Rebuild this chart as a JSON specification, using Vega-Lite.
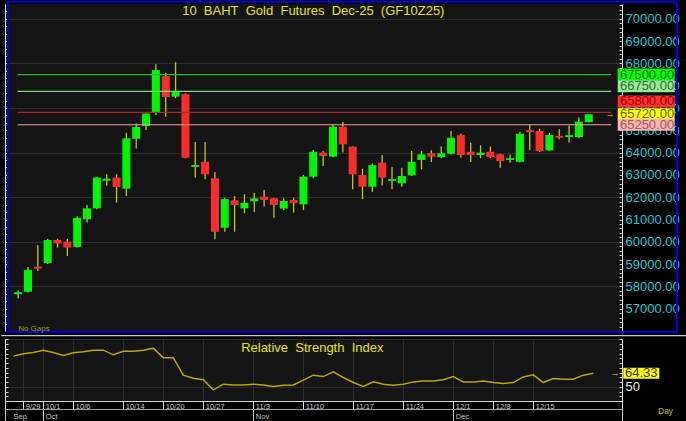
{
  "$schema": "https://vega.github.io/schema/vega-lite/v6.json",
  "background": "#000000",
  "padding": 0,
  "autosize": {"type": "pad"},
  "bounds": "flush",
  "spacing": 8,
  "config": {
    "view": {"fill": "#141414", "stroke": null},
    "font": "Liberation Sans"
  },
  "datasets": {
    "candles": [
      {"i":0,"date":"9/26","open":57650,"high":57825,"low":57470,"close":57740,"rsi":82.4},
      {"i":1,"date":"9/29","open":57760,"high":58870,"low":57730,"close":58740,"rsi":84.9},
      {"i":2,"date":"9/30","open":58880,"high":59840,"low":58690,"close":58800,"rsi":86.3},
      {"i":3,"date":"10/1","open":59050,"high":60130,"low":59000,"close":60080,"rsi":88.7},
      {"i":4,"date":"10/2","open":60080,"high":60130,"low":59740,"close":59930,"rsi":86.3},
      {"i":5,"date":"10/3","open":60000,"high":60130,"low":59360,"close":59740,"rsi":83.1},
      {"i":6,"date":"10/6","open":59770,"high":61130,"low":59740,"close":61080,"rsi":85.9},
      {"i":7,"date":"10/7","open":61010,"high":61650,"low":60860,"close":61500,"rsi":87.0},
      {"i":8,"date":"10/8","open":61500,"high":62910,"low":61460,"close":62880,"rsi":88.7},
      {"i":9,"date":"10/9","open":62740,"high":63030,"low":62530,"close":62830,"rsi":88.7},
      {"i":10,"date":"10/10","open":62880,"high":63030,"low":61750,"close":62460,"rsi":83.8},
      {"i":11,"date":"10/14","open":62380,"high":64890,"low":62050,"close":64640,"rsi":87.6},
      {"i":12,"date":"10/15","open":64620,"high":65310,"low":64180,"close":65150,"rsi":87.6},
      {"i":13,"date":"10/16","open":65190,"high":65760,"low":65010,"close":65750,"rsi":88.7},
      {"i":14,"date":"10/17","open":65820,"high":67960,"low":65690,"close":67700,"rsi":90.8},
      {"i":15,"date":"10/20","open":67430,"high":67580,"low":65610,"close":66490,"rsi":80.7},
      {"i":16,"date":"10/21","open":66510,"high":68050,"low":66440,"close":66730,"rsi":80.7},
      {"i":17,"date":"10/22","open":66620,"high":66650,"low":63740,"close":63770,"rsi":62.3},
      {"i":18,"date":"10/24","open":63360,"high":64480,"low":62880,"close":63440,"rsi":59.1},
      {"i":19,"date":"10/27","open":63590,"high":64480,"low":62800,"close":63030,"rsi":57.4},
      {"i":20,"date":"10/28","open":62850,"high":63130,"low":60110,"close":60450,"rsi":46.8},
      {"i":21,"date":"10/29","open":60630,"high":61980,"low":60450,"close":61910,"rsi":52.8},
      {"i":22,"date":"10/30","open":61860,"high":62050,"low":60450,"close":61650,"rsi":52.0},
      {"i":23,"date":"10/31","open":61500,"high":62130,"low":61280,"close":61750,"rsi":52.0},
      {"i":24,"date":"11/3","open":61820,"high":62200,"low":61340,"close":61950,"rsi":52.8},
      {"i":25,"date":"11/4","open":62020,"high":62320,"low":61580,"close":61880,"rsi":52.0},
      {"i":26,"date":"11/5","open":61950,"high":61960,"low":61080,"close":61650,"rsi":50.3},
      {"i":27,"date":"11/6","open":61490,"high":61950,"low":61430,"close":61830,"rsi":51.7},
      {"i":28,"date":"11/7","open":61880,"high":61980,"low":61310,"close":61730,"rsi":52.0},
      {"i":29,"date":"11/10","open":61680,"high":63000,"low":61430,"close":62920,"rsi":57.1},
      {"i":30,"date":"11/11","open":62920,"high":64120,"low":62850,"close":64040,"rsi":62.3},
      {"i":31,"date":"11/12","open":64000,"high":64070,"low":63400,"close":63850,"rsi":60.8},
      {"i":32,"date":"11/13","open":63820,"high":65270,"low":63780,"close":65160,"rsi":65.7},
      {"i":33,"date":"11/14","open":65160,"high":65370,"low":64000,"close":64370,"rsi":59.8},
      {"i":34,"date":"11/17","open":64270,"high":64290,"low":62360,"close":63030,"rsi":54.5},
      {"i":35,"date":"11/18","open":63000,"high":63280,"low":61910,"close":62470,"rsi":50.3},
      {"i":36,"date":"11/19","open":62470,"high":63500,"low":62250,"close":63440,"rsi":55.2},
      {"i":37,"date":"11/20","open":63550,"high":63890,"low":62530,"close":62880,"rsi":52.8},
      {"i":38,"date":"11/21","open":62730,"high":63360,"low":62360,"close":62810,"rsi":51.7},
      {"i":39,"date":"11/24","open":62620,"high":63320,"low":62470,"close":62950,"rsi":52.8},
      {"i":40,"date":"11/25","open":62980,"high":64070,"low":62960,"close":63590,"rsi":55.2},
      {"i":41,"date":"11/26","open":63670,"high":64070,"low":63250,"close":63920,"rsi":56.2},
      {"i":42,"date":"11/27","open":63970,"high":64100,"low":63580,"close":63820,"rsi":56.2},
      {"i":43,"date":"11/28","open":63800,"high":64270,"low":63750,"close":63970,"rsi":57.4},
      {"i":44,"date":"12/1","open":63950,"high":64970,"low":63920,"close":64670,"rsi":60.8},
      {"i":45,"date":"12/2","open":64780,"high":64850,"low":63770,"close":63890,"rsi":55.2},
      {"i":46,"date":"12/3","open":64040,"high":64440,"low":63580,"close":63890,"rsi":55.2},
      {"i":47,"date":"12/4","open":63890,"high":64330,"low":63750,"close":64000,"rsi":56.2},
      {"i":48,"date":"12/8","open":64040,"high":64270,"low":63750,"close":63800,"rsi":54.5},
      {"i":49,"date":"12/9","open":63920,"high":63950,"low":63320,"close":63620,"rsi":53.5},
      {"i":50,"date":"12/11","open":63670,"high":63920,"low":63550,"close":63750,"rsi":54.5},
      {"i":51,"date":"12/12","open":63590,"high":64940,"low":63560,"close":64850,"rsi":60.4},
      {"i":52,"date":"12/15","open":65000,"high":65270,"low":64100,"close":64920,"rsi":62.6},
      {"i":53,"date":"12/16","open":64970,"high":65070,"low":64030,"close":64070,"rsi":54.5},
      {"i":54,"date":"12/17","open":64100,"high":64890,"low":64080,"close":64790,"rsi":58.7},
      {"i":55,"date":"12/18","open":64750,"high":65050,"low":64600,"close":64670,"rsi":58.0},
      {"i":56,"date":"12/19","open":64700,"high":65220,"low":64440,"close":64780,"rsi":58.0},
      {"i":57,"date":"12/22","open":64700,"high":65570,"low":64640,"close":65390,"rsi":62.3},
      {"i":58,"date":"12/23","open":65360,"high":65720,"low":65360,"close":65720,"rsi":64.33}
    ],
    "levels": [
      {"name":"R2","price":67500},
      {"name":"R1","price":66750},
      {"name":"S1","price":65800},
      {"name":"Last","price":65720},
      {"name":"S2","price":65250}
    ]
  },
  "vconcat": [
    {
      "width": 617,
      "height": 327,
      "data": {"name": "candles"},
      "resolve": {"axis": {"y": "independent"}, "scale": {"color": "independent"}},
      "layer": [
        {
          "mark": {"type": "rule", "color": "#C8C800", "strokeWidth": 1.3},
          "encoding": {
            "x": {"field": "i", "type": "quantitative",
              "scale": {"domain": [-0.83, 60.87], "nice": false, "zero": false},
              "axis": {"title": null, "values": [1,3,6,11,15,19,24,29,34,39,44,48,52], "grid": true, "gridColor": "#2C2C2C", "ticks": false, "labels": false, "domain": false}},
            "y": {"field": "low", "type": "quantitative",
              "scale": {"domain": [56000, 70664], "nice": false, "zero": false},
              "axis": {"title": null, "orient": "right", "values": [57000,58000,59000,60000,61000,62000,63000,64000,65000,66000,67000,68000,69000,70000], "format": ".2f", "ticks": false, "labelPadding": 3, "labelColor": "#1EC8D4", "labelFontSize": 13, "labelFlush": false, "labelOverlap": false, "labelBound": false, "domain": true, "domainColor": "#E0E0E0", "grid": false}},
            "y2": {"field": "high"}
          }
        },
        {
          "mark": {"type": "bar", "width": 8, "opacity": 1},
          "encoding": {
            "x": {"field": "i", "type": "quantitative", "axis": null},
            "y": {"field": "open", "type": "quantitative",
              "axis": {"title": null, "orient": "right", "labels": false, "domain": false, "grid": false, "tickCount": 60, "tickSize": -3, "tickColor": "#D0D0D0"}},
            "y2": {"field": "close"},
            "color": {"condition": {"test": "datum.close >= datum.open", "value": "#00F500"}, "value": "#FF2B2B"}
          }
        },
        {
          "data": {"name": "levels"},
          "transform": [{"filter": "datum.name != 'Last'"}],
          "mark": {"type": "rule", "strokeWidth": 1.2},
          "encoding": {
            "x": {"datum": -0.06, "type": "quantitative", "axis": null},
            "x2": {"datum": 60.27},
            "y": {"field": "price", "type": "quantitative",
              "axis": {"title": null, "orient": "left", "labels": false, "domain": true, "domainColor": "#E0E0E0", "grid": false, "tickSize": -3, "tickColor": "#D0D0D0",
                "values": [56333,56667,57000,57333,57667,58000,58333,58667,59000,59333,59667,60000,60333,60667,61000,61333,61667,62000,62333,62667,63000,63333,63667,64000,64333,64667,65000,65333,65667,66000,66333,66667,67000,67333,67667,68000,68333,68667,69000,69333,69667,70000,70333]}},
            "color": {"field": "name", "type": "nominal", "legend": null,
              "scale": {"domain": ["R2","R1","S1","S2"], "range": ["#22C022","#70E070","#A82828","#F0A0A0"]}}
          }
        },
        {
          "data": {"values": [{}]},
          "mark": {"type": "rect", "filled": false, "color": "#0000D8", "strokeWidth": 2},
          "encoding": {
            "x": {"datum": -1.03, "type": "quantitative", "axis": null},
            "x2": {"datum": 66.97},
            "y": {"datum": 70763, "type": "quantitative",
              "axis": {"title": null, "orient": "left", "values": [58000,60000,62000,64000,66000,68000,70000], "grid": true, "gridColor": "#2C2C2C", "ticks": false, "labels": false, "domain": false}},
            "y2": {"datum": 55955}
          }
        },
        {
          "data": {"name": "levels"},
          "transform": [{"filter": "datum.name == 'R2' || datum.name == 'Last' || datum.name == 'S2'"}],
          "mark": {"type": "tick", "orient": "horizontal", "thickness": 12, "size": 57, "opacity": 1},
          "encoding": {
            "x": {"datum": 63.84, "type": "quantitative", "axis": null},
            "y": {"field": "price", "type": "quantitative", "axis": null},
            "color": {"field": "name", "type": "nominal", "legend": null,
              "scale": {"domain": ["R2","R1","S1","Last","S2"], "range": ["#00FF00","#90EE90","#FF3030","#FFFF00","#F4B4B4"]}}
          }
        },
        {
          "data": {"name": "levels"},
          "transform": [{"filter": "datum.name == 'R1'"}],
          "mark": {"type": "tick", "orient": "horizontal", "thickness": 12, "size": 57, "opacity": 1, "yOffset": -5},
          "encoding": {
            "x": {"datum": 63.84, "type": "quantitative", "axis": null},
            "y": {"field": "price", "type": "quantitative", "axis": null},
            "color": {"field": "name", "type": "nominal", "legend": null,
              "scale": {"domain": ["R2","R1","S1","Last","S2"], "range": ["#00FF00","#90EE90","#FF3030","#FFFF00","#F4B4B4"]}}
          }
        },
        {
          "data": {"name": "levels"},
          "transform": [{"filter": "datum.name == 'S1'"}],
          "mark": {"type": "tick", "orient": "horizontal", "thickness": 12, "size": 57, "opacity": 1, "yOffset": -11},
          "encoding": {
            "x": {"datum": 63.84, "type": "quantitative", "axis": null},
            "y": {"field": "price", "type": "quantitative", "axis": null},
            "color": {"field": "name", "type": "nominal", "legend": null,
              "scale": {"domain": ["R2","R1","S1","Last","S2"], "range": ["#00FF00","#90EE90","#FF3030","#FFFF00","#F4B4B4"]}}
          }
        },
        {
          "data": {"name": "levels"},
          "transform": [{"filter": "datum.name == 'R2' || datum.name == 'Last' || datum.name == 'S2'"}],
          "mark": {"type": "text", "align": "left", "baseline": "middle", "fontSize": 13},
          "encoding": {
            "x": {"datum": 61.17, "type": "quantitative", "axis": null},
            "y": {"field": "price", "type": "quantitative", "axis": null},
            "text": {"field": "price", "type": "quantitative", "format": ".2f"},
            "color": {"field": "name", "type": "nominal", "legend": null,
              "scale": {"domain": ["R2","R1","S1","Last","S2"], "range": ["#006A00","#3E6A3E","#A00000","#6A6000","#A85858"]}}
          }
        },
        {
          "data": {"name": "levels"},
          "transform": [{"filter": "datum.name == 'R1'"}],
          "mark": {"type": "text", "align": "left", "baseline": "middle", "fontSize": 13, "yOffset": -5},
          "encoding": {
            "x": {"datum": 61.17, "type": "quantitative", "axis": null},
            "y": {"field": "price", "type": "quantitative", "axis": null},
            "text": {"field": "price", "type": "quantitative", "format": ".2f"},
            "color": {"field": "name", "type": "nominal", "legend": null,
              "scale": {"domain": ["R2","R1","S1","Last","S2"], "range": ["#006A00","#3E6A3E","#A00000","#6A6000","#A85858"]}}
          }
        },
        {
          "data": {"name": "levels"},
          "transform": [{"filter": "datum.name == 'S1'"}],
          "mark": {"type": "text", "align": "left", "baseline": "middle", "fontSize": 13, "yOffset": -11},
          "encoding": {
            "x": {"datum": 61.17, "type": "quantitative", "axis": null},
            "y": {"field": "price", "type": "quantitative", "axis": null},
            "text": {"field": "price", "type": "quantitative", "format": ".2f"},
            "color": {"field": "name", "type": "nominal", "legend": null,
              "scale": {"domain": ["R2","R1","S1","Last","S2"], "range": ["#006A00","#3E6A3E","#A00000","#6A6000","#A85858"]}}
          }
        },
        {
          "data": {"name": "levels"},
          "transform": [{"filter": "datum.name == 'Last'"}],
          "mark": {"type": "text", "text": "→", "align": "center", "baseline": "middle", "fontSize": 9, "color": "#E8C800"},
          "encoding": {
            "x": {"datum": 60.17, "type": "quantitative", "axis": null},
            "y": {"field": "price", "type": "quantitative", "axis": null}
          }
        },
        {
          "data": {"values": [{}]},
          "mark": {"type": "text", "text": "10\u00a0 BAHT\u00a0 Gold\u00a0 Futures\u00a0 Dec-25\u00a0 (GF10Z25)", "align": "center", "baseline": "middle", "fontSize": 13, "color": "#E6E600"},
          "encoding": {
            "x": {"datum": 30.0, "type": "quantitative", "axis": null},
            "y": {"datum": 70350, "type": "quantitative", "axis": null}
          }
        },
        {
          "data": {"values": [{}]},
          "mark": {"type": "text", "text": "No Gaps", "align": "left", "baseline": "middle", "fontSize": 8, "color": "#A0A000"},
          "encoding": {
            "x": {"datum": 0, "type": "quantitative", "axis": null},
            "y": {"datum": 56090, "type": "quantitative", "axis": null}
          }
        }
      ]
    },
    {
      "width": 617,
      "height": 62,
      "data": {"name": "candles"},
      "resolve": {"axis": {"x": "independent", "y": "independent"}},
      "layer": [
        {
          "mark": {"type": "line", "color": "#B8A800", "strokeWidth": 1.5},
          "encoding": {
            "x": {"field": "i", "type": "quantitative",
              "scale": {"domain": [-0.83, 60.87], "nice": false, "zero": false},
              "axis": {"title": null, "orient": "bottom", "values": [-0.83,1,3,6,11,15,19,24,29,34,39,44,48,52,60.87],
                "labelExpr": "indexof([1,3,6,11,15,19,24,29,34,39,44,48,52], datum.value) >= 0 ? ['9/29','10/1','10/6','10/14','10/20','10/27','11/3','11/10','11/17','11/24','12/1','12/8','12/15'][indexof([1,3,6,11,15,19,24,29,34,39,44,48,52], datum.value)] : ''",
                "grid": true, "gridColor": "#2C2C2C", "tickSize": 8, "tickColor": "#D8D8D8", "domainColor": "#D8D8D8",
                "labelColor": "#C8C8C8", "labelFontSize": 7.5, "labelAlign": "left", "labelBaseline": "top", "labelPadding": -7, "labelOffset": 2,
                "labelFlush": false, "labelOverlap": false, "labelBound": false}},
            "y": {"field": "rsi", "type": "quantitative",
              "scale": {"domain": [35, 100.5], "nice": false, "zero": false},
              "axis": {"title": null, "orient": "right", "values": [50], "labelColor": "#E8E8E8", "labelFontSize": 13, "ticks": false, "labelPadding": 3, "domainColor": "#E0E0E0", "grid": false, "labelFlush": false, "labelBound": false}}
          }
        },
        {
          "transform": [{"filter": "datum.i == 58"}],
          "mark": {"type": "tick", "orient": "horizontal", "thickness": 11, "size": 36, "opacity": 1, "color": "#FFFF00"},
          "encoding": {
            "x": {"datum": 62.8, "type": "quantitative",
              "axis": {"title": null, "orient": "bottom", "offset": 8, "values": [-0.83,3,24,44,60.87],
                "labelExpr": "datum.value < 0 ? 'Sep' : datum.value == 3 ? 'Oct' : datum.value == 24 ? 'Nov' : datum.value == 44 ? 'Dec' : ''",
                "grid": false, "tickSize": 13, "tickColor": "#C8C8C8", "domainColor": "#A0A0A0",
                "labelColor": "#C8C8C8", "labelFontSize": 7.5, "labelAlign": "left", "labelBaseline": "top", "labelPadding": -10,
                "labelOffset": {"condition": {"test": "datum.value < 0", "value": 8}, "value": 2},
                "labelFlush": false, "labelOverlap": false, "labelBound": false}},
            "y": {"field": "rsi", "type": "quantitative",
              "axis": {"title": null, "orient": "right", "labels": false, "domain": false, "grid": false, "tickSize": -3, "tickColor": "#D0D0D0",
                "values": [40,45,50,55,60,65,70,75,80,85,90,95,100]}}
          }
        },
        {
          "transform": [{"filter": "datum.i == 58"}],
          "mark": {"type": "text", "align": "left", "baseline": "middle", "fontSize": 13, "color": "#333300"},
          "encoding": {
            "x": {"datum": 61.17, "type": "quantitative", "axis": null},
            "y": {"field": "rsi", "type": "quantitative", "axis": null},
            "text": {"field": "rsi", "type": "quantitative", "format": ".2f"}
          }
        },
        {
          "transform": [{"filter": "datum.i == 58"}],
          "mark": {"type": "text", "text": "→", "align": "center", "baseline": "middle", "fontSize": 9, "color": "#E8C800"},
          "encoding": {
            "x": {"datum": 60.17, "type": "quantitative", "axis": null},
            "y": {"field": "rsi", "type": "quantitative", "axis": null}
          }
        },
        {
          "data": {"values": [{}]},
          "mark": {"type": "text", "text": "Relative\u00a0 Strength\u00a0 Index", "align": "center", "baseline": "middle", "fontSize": 13, "color": "#E6E600"},
          "encoding": {
            "x": {"datum": 29.9, "type": "quantitative", "axis": null},
            "y": {"datum": 91.0, "type": "quantitative",
              "axis": {"title": null, "orient": "left", "labels": false, "domain": true, "domainColor": "#E0E0E0", "grid": false, "tickSize": -3, "tickColor": "#D0D0D0",
                "values": [40,45,50,55,60,65,70,75,80,85,90,95,100]}}
          }
        },
        {
          "data": {"values": [{}]},
          "mark": {"type": "text", "text": "Day", "align": "left", "baseline": "middle", "fontSize": 8.5, "color": "#C8B400"},
          "encoding": {
            "x": {"datum": 64.47, "type": "quantitative", "axis": null},
            "y": {"datum": 24.4, "type": "quantitative",
              "axis": {"title": null, "orient": "left", "values": [50, 100], "grid": true, "gridColor": "#2C2C2C", "ticks": false, "labels": false, "domain": false}}
          }
        },
        {
          "data": {"values": [{}]},
          "mark": {"type": "rule", "color": "#C8C8C8", "strokeWidth": 1.2},
          "encoding": {
            "x": {"datum": -1.2, "type": "quantitative", "axis": null},
            "x2": {"datum": 67.27},
            "y": {"datum": 104.0, "type": "quantitative", "axis": null}
          }
        }
      ]
    }
  ]
}
